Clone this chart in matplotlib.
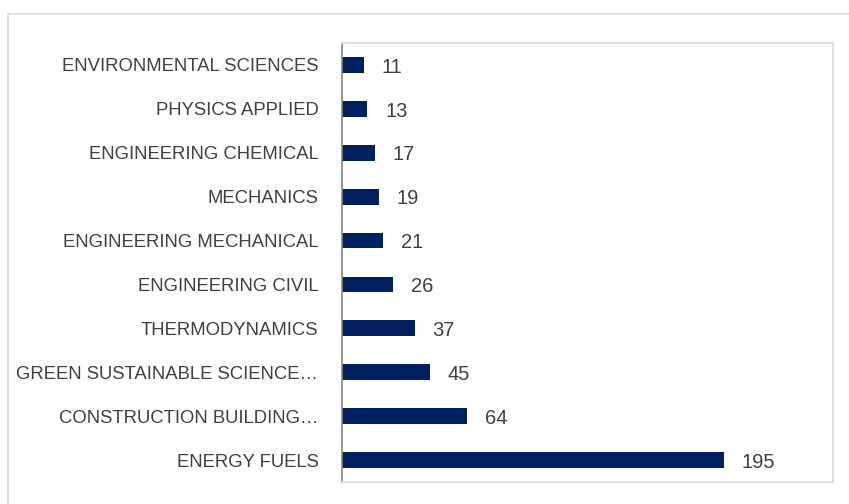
import matplotlib
matplotlib.use("Agg")
import matplotlib.pyplot as plt
from matplotlib.patches import Rectangle

# categories, bottom to top
categories = [
    "ENERGY FUELS",
    "CONSTRUCTION BUILDING…",
    "GREEN SUSTAINABLE SCIENCE…",
    "THERMODYNAMICS",
    "ENGINEERING CIVIL",
    "ENGINEERING MECHANICAL",
    "MECHANICS",
    "ENGINEERING CHEMICAL",
    "PHYSICS APPLIED",
    "ENVIRONMENTAL SCIENCES",
]
counts = [195, 64, 45, 37, 26, 21, 19, 17, 13, 11]

BAR = "#002060"
TXT = "#404040"
W, H = 849, 504

plt.rcParams["font.family"] = ["Liberation Sans", "DejaVu Sans"]

fig = plt.figure(figsize=(W / 100, H / 100), dpi=100)
# outer chart frame (cropped on the right/bottom)
fig.patches.append(Rectangle((8 / W, -0.1), 1.2, 1 - 14 / H + 0.1,
                             transform=fig.transFigure, fill=False,
                             edgecolor="#d9d9d9", linewidth=1.2))

ax = fig.add_axes([342 / W, 1 - 482 / H, (833 - 342) / W, (482 - 43) / H])
ypos = list(range(len(categories)))
ax.barh(ypos, counts, height=0.36, color=BAR)
for y, v in zip(ypos, counts):
    ax.text(v + 9, y - 0.05, str(v), va="center", ha="left", fontsize=14.5, color=TXT)

ax.set_xlim(0, 250.5)
ax.set_ylim(-0.5, len(categories) - 0.5)
ax.set_yticks(ypos)
ax.set_yticklabels(categories, fontsize=13.3, color=TXT)
ax.tick_params(axis="y", length=0, pad=17)
ax.set_xticks([])
for s in ["top", "right", "bottom"]:
    ax.spines[s].set_color("#d9d9d9")
    ax.spines[s].set_linewidth(1.2)
ax.spines["left"].set_color("#868686")
ax.spines["left"].set_linewidth(1.2)

fig.savefig("out.png", dpi=100)
